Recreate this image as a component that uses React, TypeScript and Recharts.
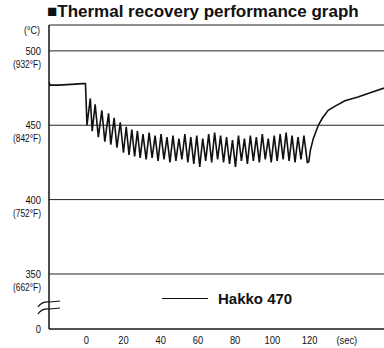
import { LineChart, Line, XAxis, YAxis, CartesianGrid, Customized } from "recharts";

// time (sec) and tip temperature (°C)
const times = [
  -20, -19.5, -15, -8, -2, -0.4,
  0.4, 2.2, 3.2, 4.8, 6.5, 8.4, 10, 12, 13.2, 15, 16.5, 18.3, 20, 21.5, 23, 24.5, 26, 27.5, 29, 30.5,
  32.2, 33.8, 35.4, 37, 38.6, 40.2, 41.8, 43.4, 45, 46.6, 48.2, 49.8, 51.4, 53, 54.6, 56.2, 57.8, 59.4,
  61, 62.6, 64.2, 65.8, 67.4, 69, 70.6, 72.2, 73.8, 75.4, 77, 78.6, 80.2, 81.8, 83.4, 85, 86.6, 88.2,
  89.8, 91.4, 93, 94.6, 96.2, 97.8, 99.4, 101, 102.6, 104.2, 105.8, 107.4, 109, 110.6, 112.2, 113.8,
  115.4, 117, 118.8, 119.6,
  120.4, 122, 124.7, 127, 130, 134, 139, 146, 153, 160,
];
const temps = [
  479, 477, 477, 477.5, 478, 478,
  450, 468, 446, 464, 442, 460, 439, 458, 437, 455, 435, 452, 431.5, 449, 430, 447, 429, 446, 428, 444,
  427, 445, 428, 443, 426, 444, 427, 442, 425, 443, 426, 441, 427, 444, 425, 442, 424, 443,
  422, 441, 426, 444, 425, 445, 427, 443, 425, 442, 424, 440, 422, 443, 426, 441, 424, 443,
  426, 442, 425, 444, 427, 441, 425, 443, 426, 444, 427, 445, 426, 443, 425, 442,
  427, 443, 425, 425.5,
  433, 441, 450, 455, 460, 463, 466.5, 469, 472, 475,
];

const yTicks = [313, 350, 400, 450, 500];
const yLabels = ["0", "350", "400", "450", "500"];
const yFahrenheit = ["", "(662°F)", "(752°F)", "(842°F)", "(932°F)"];
const xTicks = [0, 20, 40, 60, 80, 100, 120, 140];
const xLabels = ["0", "20", "40", "60", "80", "100", "120", "(sec)"];
const seriesName = "Hakko 470";

const data = times.map((t, i) => ({ t, temp: temps[i] }));
const font = "'Liberation Sans', Arial, sans-serif";

function YTick(props: any) {
  const { y, payload } = props;
  const i = yTicks.indexOf(payload.value);
  return (
    <g fontFamily={font} fill="#111" textAnchor="end">
      <text transform={`translate(41,${y + 4}) scale(0.85,1)`} fontSize={11}>{yLabels[i]}</text>
      {yFahrenheit[i] && (
        <text transform={`translate(41,${y + 17}) scale(0.8,1)`} fontSize={10.5}>{yFahrenheit[i]}</text>
      )}
    </g>
  );
}

function XTick(props: any) {
  const { x, y, payload } = props;
  return (
    <text
      transform={`translate(${x},${y + 7}) scale(0.85,1)`}
      textAnchor="middle"
      fontFamily={font}
      fontSize={11}
      fill="#111"
    >
      {xLabels[xTicks.indexOf(payload.value)]}
    </text>
  );
}

function Extras() {
  return (
    <g>
      <text transform="translate(40,34) scale(0.85,1)" textAnchor="end" fontFamily={font} fontSize={10.5} fill="#111">
        (°C)
      </text>
      <rect x={46} y={304} width={6} height={7} fill="#fff" />
      <path d="M38 307 Q42 301 50 302 L60 301" stroke="#111" fill="none" strokeWidth={1.2} />
      <path d="M38 314 Q42 308 50 309 L60 308" stroke="#111" fill="none" strokeWidth={1.2} />
    </g>
  );
}

export default function App() {
  return (
    <div style={{ position: "relative", width: 384, height: 348, background: "#fff" }}>
      <style>{`body{margin:0}`}</style>
      <div
        style={{
          position: "absolute",
          left: 47,
          top: 2,
          fontFamily: font,
          fontWeight: 700,
          fontSize: 17,
          color: "#111",
          whiteSpace: "nowrap",
        }}
      >
        ■Thermal recovery performance graph
      </div>
      <LineChart width={384} height={348} data={data} margin={{ top: 25, right: 0, bottom: 0, left: 0 }}>
        <CartesianGrid vertical={false} stroke="#222" strokeWidth={1} />
        <XAxis
          dataKey="t"
          type="number"
          domain={[-20, 160]}
          ticks={xTicks}
          tick={<XTick />}
          tickLine={false}
          axisLine={{ stroke: "#111" }}
          height={19}
          allowDataOverflow
        />
        <YAxis
          type="number"
          domain={[313, 517.4]}
          ticks={yTicks}
          tick={<YTick />}
          tickLine={false}
          axisLine={{ stroke: "#111", strokeWidth: 1.5 }}
          width={49}
          allowDataOverflow
        />
        <Line
          dataKey="temp"
          name={seriesName}
          stroke="#111"
          strokeWidth={1.6}
          dot={false}
          type="linear"
          isAnimationActive={false}
        />
        <Customized component={<Extras />} />
      </LineChart>
      <div
        style={{
          position: "absolute",
          left: 162,
          top: 290,
          display: "flex",
          alignItems: "center",
          fontFamily: font,
        }}
      >
        <div style={{ width: 46, height: 0, borderTop: "1.5px solid #111" }} />
        <span style={{ marginLeft: 10, fontWeight: 700, fontSize: 15, color: "#111" }}>{seriesName}</span>
      </div>
    </div>
  );
}
